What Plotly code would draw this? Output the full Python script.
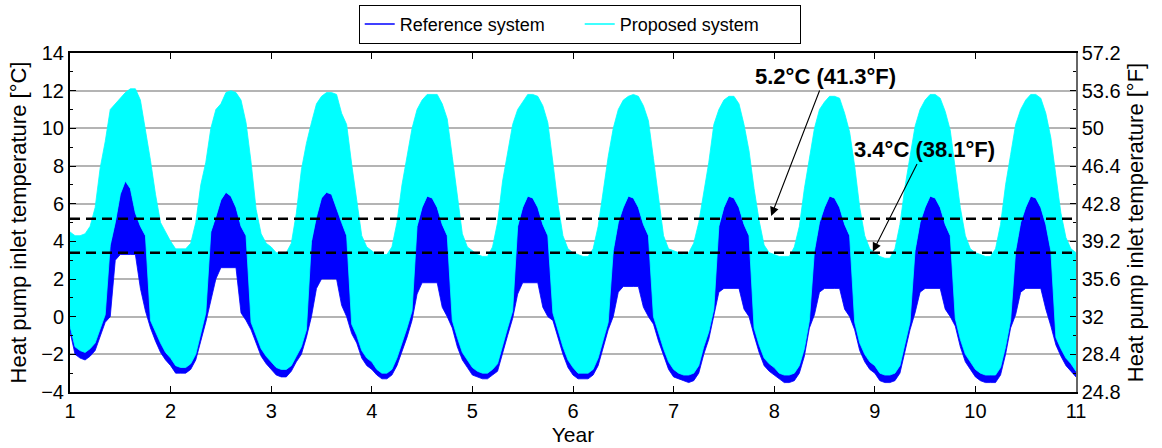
import numpy as np
import plotly.graph_objects as go

# Each row = one simulated year (f = 0.00, 0.05, ..., 0.95); upper / lower envelope of the
# dense hourly signal of each system.
PROPOSED_HIGH = [
    [4.5, 4.3, 4.3, 4.4, 4.8, 5.8, 7.9, 9.3, 11.0, 11.3, 11.6, 11.9, 12.1, 12.1, 11.5, 10.0, 8.3, 6.5, 5.0, 4.5],
    [4.0, 3.6, 3.6, 3.6, 3.9, 5.0, 7.0, 8.2, 10.0, 11.0, 11.3, 11.9, 12.0, 11.9, 11.5, 10.3, 8.2, 5.7, 4.4, 3.9],
    [3.7, 3.4, 3.4, 3.4, 3.9, 5.5, 7.8, 9.2, 10.3, 11.3, 11.7, 11.9, 11.9, 11.8, 10.8, 10.2, 8.1, 6.2, 4.3, 3.7],
    [3.5, 3.3, 3.3, 3.3, 3.7, 5.0, 7.0, 8.5, 10.0, 11.0, 11.5, 11.8, 11.8, 11.8, 11.3, 10.5, 8.5, 6.3, 4.4, 3.7],
    [3.5, 3.3, 3.2, 3.2, 3.7, 5.0, 7.2, 8.6, 10.2, 11.0, 11.4, 11.8, 11.8, 11.7, 11.2, 10.3, 8.2, 6.0, 4.3, 3.6],
    [3.4, 3.3, 3.2, 3.2, 3.6, 4.8, 6.8, 8.5, 10.0, 11.0, 11.5, 11.7, 11.8, 11.7, 11.2, 10.4, 8.4, 6.2, 4.3, 3.6],
    [3.5, 3.4, 3.3, 3.4, 3.9, 5.0, 6.5, 8.2, 10.2, 11.0, 11.5, 11.7, 11.7, 11.3, 10.2, 8.8, 6.8, 5.1, 3.8, 3.4],
    [3.3, 3.2, 3.2, 3.2, 3.7, 4.8, 6.8, 8.4, 10.0, 11.0, 11.4, 11.7, 11.7, 11.6, 10.8, 9.8, 8.0, 5.8, 4.3, 3.6],
    [3.4, 3.2, 3.1, 3.1, 3.6, 4.9, 6.9, 8.5, 10.1, 11.0, 11.5, 11.8, 11.8, 11.6, 10.9, 9.9, 7.8, 5.8, 4.3, 3.6],
    [3.4, 3.3, 3.2, 3.2, 3.6, 4.9, 7.0, 8.6, 10.2, 11.0, 11.5, 11.8, 11.8, 11.6, 10.8, 9.5, 7.4, 5.5, 4.2, 3.6],
]
PROPOSED_LOW = [
    [-0.5, -1.6, -1.8, -1.9, -1.7, -1.4, -0.6, 0.1, 3.8, 5.0, 6.5, 7.2, 6.8, 5.5, 4.8, 4.3, -0.2, -0.8, -1.4, -1.9],
    [-2.2, -2.6, -2.7, -2.7, -2.5, -2.0, -0.9, 0.2, 4.5, 5.3, 6.2, 6.6, 6.4, 5.8, 4.8, 4.3, -0.3, -1.0, -1.7, -2.1],
    [-2.4, -2.7, -2.8, -2.8, -2.6, -2.1, -1.6, -0.7, 4.0, 5.3, 6.3, 6.6, 6.5, 5.8, 5.0, 4.3, -0.4, -1.0, -1.8, -2.2],
    [-2.4, -2.8, -3.0, -3.0, -2.8, -2.2, -1.4, -0.6, 0.3, 4.8, 5.8, 6.4, 6.3, 5.8, 4.9, 4.3, -0.2, -1.1, -1.9, -2.3],
    [-2.7, -2.9, -3.0, -3.0, -2.8, -2.5, -1.6, -0.6, 0.3, 4.8, 5.8, 6.4, 6.3, 5.8, 4.9, 4.3, 0.2, -0.7, -1.6, -2.3],
    [-2.7, -3.0, -3.0, -3.0, -2.8, -2.2, -1.3, -0.3, 3.5, 5.0, 5.8, 6.4, 6.3, 5.8, 4.9, 4.3, 0.0, -0.9, -1.7, -2.4],
    [-2.8, -3.0, -3.1, -3.1, -3.0, -2.6, -1.6, -0.8, 0.4, 4.8, 5.8, 6.4, 6.3, 5.8, 4.9, 4.3, -0.6, -1.5, -2.2, -2.5],
    [-2.7, -3.0, -3.1, -3.1, -3.0, -2.6, -1.7, -0.2, 3.5, 5.0, 5.8, 6.4, 6.3, 5.8, 4.9, 4.3, -0.3, -1.4, -2.0, -2.4],
    [-2.6, -3.0, -3.1, -3.1, -3.0, -2.6, -1.5, -0.3, 3.5, 5.0, 5.8, 6.4, 6.3, 5.8, 4.9, 4.3, -0.1, -1.2, -2.0, -2.4],
    [-2.8, -3.0, -3.1, -3.1, -3.1, -2.7, -1.6, -0.2, 3.5, 5.0, 5.8, 6.4, 6.3, 5.8, 4.9, 3.5, -1.1, -1.7, -2.2, -2.5],
]
REFERENCE_HIGH = [
    [2.0, 2.0, 2.0, 2.0, 2.0, 2.0, 2.0, 2.5, 3.8, 5.0, 6.5, 7.2, 6.8, 5.5, 4.8, 4.3, 2.0, 2.0, 2.0, 2.0],
    [2.0, 2.0, 2.0, 2.0, 2.0, 2.0, 2.0, 2.5, 4.5, 5.3, 6.2, 6.6, 6.4, 5.8, 4.8, 4.3, 2.0, 2.0, 2.0, 2.0],
    [2.0, 2.0, 2.0, 2.0, 2.0, 2.0, 2.0, 2.5, 4.0, 5.3, 6.3, 6.6, 6.5, 5.8, 5.0, 4.3, 2.0, 2.0, 2.0, 2.0],
    [2.0, 2.0, 2.0, 2.0, 2.0, 2.0, 2.0, 2.0, 2.5, 4.8, 5.8, 6.4, 6.3, 5.8, 4.9, 4.3, 2.0, 2.0, 2.0, 2.0],
    [2.0, 2.0, 2.0, 2.0, 2.0, 2.0, 2.0, 2.0, 2.5, 4.8, 5.8, 6.4, 6.3, 5.8, 4.9, 4.3, 2.0, 2.0, 2.0, 2.0],
    [2.0, 2.0, 2.0, 2.0, 2.0, 2.0, 2.0, 2.5, 3.5, 5.0, 5.8, 6.4, 6.3, 5.8, 4.9, 4.3, 2.0, 2.0, 2.0, 2.0],
    [2.0, 2.0, 2.0, 2.0, 2.0, 2.0, 2.0, 2.0, 2.5, 4.8, 5.8, 6.4, 6.3, 5.8, 4.9, 4.3, 2.0, 2.0, 2.0, 2.0],
    [2.0, 2.0, 2.0, 2.0, 2.0, 2.0, 2.0, 2.5, 3.5, 5.0, 5.8, 6.4, 6.3, 5.8, 4.9, 4.3, 2.0, 2.0, 2.0, 2.0],
    [2.0, 2.0, 2.0, 2.0, 2.0, 2.0, 2.0, 2.5, 3.5, 5.0, 5.8, 6.4, 6.3, 5.8, 4.9, 4.3, 2.0, 2.0, 2.0, 2.0],
    [2.0, 2.0, 2.0, 2.0, 2.0, 2.0, 2.0, 2.5, 3.5, 5.0, 5.8, 6.4, 6.3, 5.8, 4.9, 3.5, 2.0, 2.0, 2.0, 2.0],
]
REFERENCE_LOW = [
    [-0.8, -2.0, -2.2, -2.3, -2.1, -1.8, -1.0, -0.3, 0.0, 3.0, 3.3, 3.3, 3.3, 3.3, 1.5, 0.3, -0.6, -1.3, -1.9, -2.3],
    [-2.6, -3.0, -3.0, -3.0, -2.8, -2.3, -1.3, -0.3, 0.8, 2.0, 2.6, 2.6, 2.6, 2.6, 0.2, -0.2, -0.7, -1.4, -2.1, -2.5],
    [-2.8, -3.1, -3.2, -3.2, -2.9, -2.4, -2.0, -1.1, 0.0, 1.5, 2.0, 2.0, 2.0, 2.0, 0.6, 0.0, -0.9, -1.4, -2.2, -2.6],
    [-2.8, -3.1, -3.3, -3.3, -3.1, -2.6, -1.8, -1.1, -0.2, 1.2, 1.8, 1.8, 1.8, 1.8, 0.5, 0.0, -0.6, -1.6, -2.3, -2.7],
    [-3.1, -3.2, -3.3, -3.3, -3.1, -2.9, -2.0, -1.0, -0.1, 1.2, 1.8, 1.8, 1.8, 1.8, 0.5, 0.0, -0.2, -1.1, -2.0, -2.7],
    [-3.1, -3.3, -3.3, -3.3, -3.1, -2.6, -1.7, -0.7, 0.0, 1.3, 1.6, 1.6, 1.6, 1.6, 0.5, 0.0, -0.4, -1.3, -2.1, -2.8],
    [-3.2, -3.3, -3.4, -3.5, -3.4, -3.0, -2.0, -1.2, 0.0, 1.3, 1.5, 1.5, 1.5, 1.5, 0.4, 0.0, -1.0, -1.9, -2.6, -2.9],
    [-3.1, -3.3, -3.5, -3.5, -3.4, -3.0, -2.1, -0.6, 0.1, 1.3, 1.5, 1.5, 1.5, 1.5, 0.4, 0.0, -0.7, -1.8, -2.4, -2.8],
    [-3.0, -3.4, -3.5, -3.5, -3.4, -3.0, -1.9, -0.7, 0.2, 1.3, 1.5, 1.5, 1.5, 1.5, 0.4, 0.0, -0.5, -1.6, -2.4, -2.8],
    [-3.2, -3.4, -3.5, -3.5, -3.5, -3.1, -2.0, -0.6, 0.1, 1.3, 1.5, 1.5, 1.5, 1.5, 0.4, -0.5, -1.5, -2.1, -2.6, -2.9],
]
# values at the very end of the record (year 11.0)
END_PROPOSED = [3.4, -2.9]     # high, low
END_REFERENCE = [2.0, -3.2]    # high, low

THRESHOLDS_C = [5.2, 3.4]
THRESHOLD_LABELS = ["5.2°C (41.3°F)", "3.4°C (38.1°F)"]
YEAR_TICKS = list(range(1, 12))
C_TICKS = [-4, -2, 0, 2, 4, 6, 8, 10, 12, 14]
F_TICK_TEXT = ["24.8", "28.4", "32", "35.6", "39.2", "42.8", "46.4", "50", "53.6", "57.2"]

# ---- build ----
n_years = len(PROPOSED_HIGH)
steps = len(PROPOSED_HIGH[0])
t = list(np.round(np.linspace(1, 1 + n_years, n_years * steps + 1), 4))

def flat(rows, end):
    out = []
    for r in rows:
        out += r
    return out + [end]

ph = flat(PROPOSED_HIGH, END_PROPOSED[0])
pl = flat(PROPOSED_LOW, END_PROPOSED[1])
rh = flat(REFERENCE_HIGH, END_REFERENCE[0])
rl = flat(REFERENCE_LOW, END_REFERENCE[1])

BLUE = "#0000FF"
CYAN = "#00FFFF"
FONT = "Liberation Sans, Arial, Helvetica, sans-serif"

fig = go.Figure()
fig.add_trace(go.Scatter(x=t + t[::-1], y=rh + rl[::-1], fill="toself", fillcolor=BLUE,
                         mode="lines", line=dict(color=BLUE, width=0.8), showlegend=False,
                         hoverinfo="skip"))
fig.add_trace(go.Scatter(x=t + t[::-1], y=ph + pl[::-1], fill="toself", fillcolor=CYAN,
                         mode="lines", line=dict(color=CYAN, width=0.8), showlegend=False,
                         hoverinfo="skip"))
for th in THRESHOLDS_C:
    fig.add_trace(go.Scatter(x=[YEAR_TICKS[0], YEAR_TICKS[-1]], y=[th, th], mode="lines",
                             line=dict(color="black", width=2.5, dash="10px,6px"),
                             showlegend=False, hoverinfo="skip"))
# legend entries (line samples)
fig.add_trace(go.Scatter(x=[None], y=[None], mode="lines", line=dict(color=BLUE, width=1.5),
                         name="Reference system"))
fig.add_trace(go.Scatter(x=[None], y=[None], mode="lines", line=dict(color=CYAN, width=1.5),
                         name="Proposed system"))
# invisible trace to activate the Fahrenheit axis
fig.add_trace(go.Scatter(x=[None], y=[None], yaxis="y2", showlegend=False, hoverinfo="skip"))

ann_pos = [dict(x=7.97, y=5.35, ax=8.505, ay=12.75), dict(x=8.98, y=3.45, ax=9.49, ay=8.85)]
for lab, p in zip(THRESHOLD_LABELS, ann_pos):
    fig.add_annotation(x=p["x"], y=p["y"], ax=p["ax"], ay=p["ay"], xref="x", yref="y",
                       axref="x", ayref="y", text="<b>" + lab + "</b>", showarrow=True,
                       arrowhead=2, arrowsize=1.6, arrowwidth=1.1, arrowcolor="black",
                       font=dict(family=FONT, size=22, color="black"))

c_min, c_max = C_TICKS[0], C_TICKS[-1]
f_min, f_max = c_min * 1.8 + 32, c_max * 1.8 + 32
f_vals = [c * 1.8 + 32 for c in C_TICKS]

fig.update_layout(
    width=1162, height=448,
    margin=dict(l=70, r=86, t=53, b=56, autoexpand=False),
    paper_bgcolor="white", plot_bgcolor="white",
    font=dict(family=FONT, size=20, color="black"),
    showlegend=True,
    legend=dict(orientation="h", x=0.287, y=1.142, xanchor="left", yanchor="top",
                bordercolor="black", borderwidth=1, bgcolor="white",
                font=dict(family=FONT, size=18), entrywidth=175, entrywidthmode="pixels",
                tracegroupgap=0),
    xaxis=dict(range=[1, 11], tickvals=YEAR_TICKS, ticks="inside", ticklen=6, tickwidth=1,
               tickcolor="black", showline=True, linecolor="black", linewidth=2,
               mirror="ticks", showgrid=False, zeroline=False,
               title=dict(text="Year", font=dict(size=21), standoff=6),
               tickfont=dict(size=20)),
    yaxis=dict(range=[c_min, c_max], tickvals=C_TICKS, ticks="inside", ticklen=6, tickwidth=1,
               tickcolor="black", showline=True, linecolor="black", linewidth=2,
               showgrid=True, gridcolor="#b4b4b4", gridwidth=1.5, zeroline=False,
               minor=dict(ticks="inside", ticklen=3, tickcolor="black", dtick=1, showgrid=False),
               title=dict(text="Heat pump inlet temperature [°C]", font=dict(size=22), standoff=8),
               tickfont=dict(size=20)),
    yaxis2=dict(range=[f_min, f_max], overlaying="y", side="right", tickvals=f_vals,
                ticktext=F_TICK_TEXT, ticks="inside", ticklen=6, tickwidth=1, tickcolor="black",
                showline=True, linecolor="#666666", linewidth=1.5, showgrid=False, zeroline=False,
                minor=dict(ticks="inside", ticklen=3, tickcolor="black", dtick=1.8, tick0=f_min,
                           showgrid=False),
                title=dict(text="Heat pump inlet temperature [°F]", font=dict(size=22), standoff=8),
                tickfont=dict(size=20)),
)

fig.write_html("out.html")
